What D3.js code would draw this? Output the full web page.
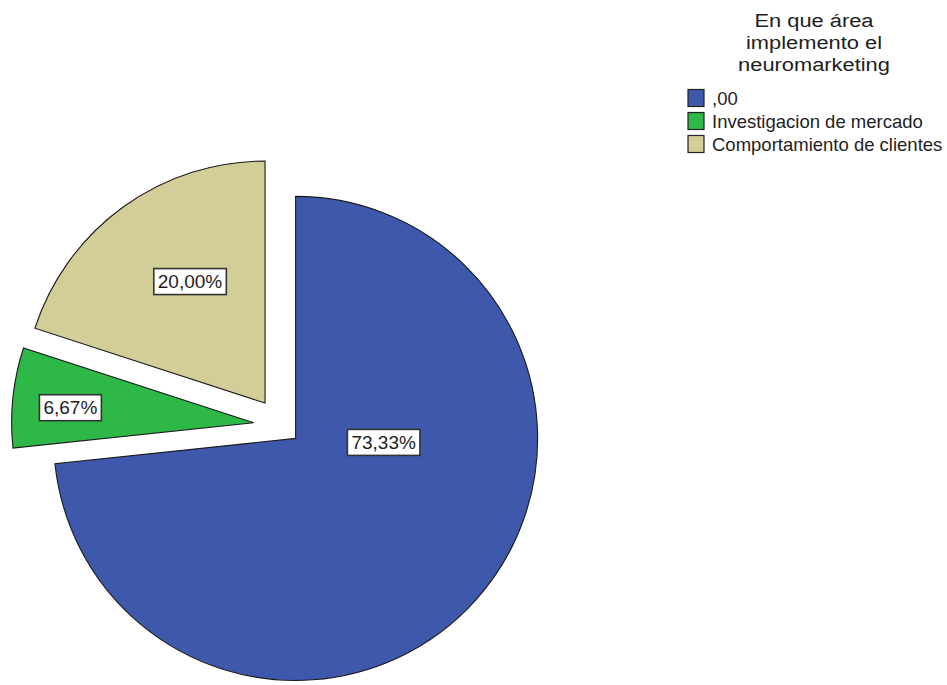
<!DOCTYPE html>
<html>
<head>
<meta charset="utf-8">
<script src="https://cdn.jsdelivr.net/npm/d3@7"></script>
<style>
  html, body { margin: 0; padding: 0; background: #fff; }
  svg { display: block; font-family: "Liberation Sans", Arial, sans-serif; }
</style>
</head>
<body>
<svg id="chart" width="947" height="685"></svg>
<script>
// Area where neuromarketing is applied (percent of respondents)
const categories = [",00", "Investigacion de mercado", "Comportamiento de clientes"];
const percents = [73.33, 6.67, 20.00];
const sliceColors = ["#3E58AC", "#2EB848", "#D3CE97"];
const legendTitle = ["En que área", "implemento el", "neuromarketing"];

// Layout
const W = 947, H = 685;
const cx = 281.5, cy = 425.7, R = 242;
const explode = { ",00": 19, "Investigacion de mercado": 28, "Comportamiento de clientes": 28 };
// label anchor relative to each slice apex: angle (degrees, clockwise from 12 o'clock), distance (fraction of R)
const labelAt = {
  ",00": { a: 92.6, r: 0.364 },
  "Investigacion de mercado": { a: 274.7, r: 0.76 },
  "Comportamiento de clientes": { a: 328.3, r: 0.59 }
};

const svg = d3.select("#chart");
const data = categories.map((c, i) => ({ cat: c, value: percents[i], color: sliceColors[i] }));

const pie = d3.pie().sort(null).value(d => d.value).startAngle(0).endAngle(2 * Math.PI);
const arc = d3.arc().innerRadius(0).outerRadius(R);
const arcs = pie(data);

const locale = d3.formatLocale({ decimal: ",", thousands: ".", grouping: [3], currency: ["", ""] });
const fmt = locale.format(".2f");

const pieG = svg.append("g").attr("transform", `translate(${cx},${cy})`);

const slices = pieG.selectAll("g.slice")
  .data(arcs)
  .join("g")
  .attr("class", "slice")
  .attr("transform", d => {
    const mid = (d.startAngle + d.endAngle) / 2;
    const e = explode[d.data.cat] || 0;
    return `translate(${e * Math.sin(mid)},${-e * Math.cos(mid)})`;
  });

slices.append("path")
  .attr("d", arc)
  .attr("fill", d => d.data.color)
  .attr("stroke", "#1a1a1a")
  .attr("stroke-width", 1.1)
  .attr("stroke-linejoin", "miter");

// value labels in white boxes
slices.each(function (d) {
  const g = d3.select(this);
  const p = labelAt[d.data.cat];
  const a = p.a * Math.PI / 180;
  const lx = p.r * R * Math.sin(a), ly = -p.r * R * Math.cos(a);
  const lg = g.append("g").attr("transform", `translate(${lx},${ly})`);
  const rect = lg.append("rect");
  const t = lg.append("text")
    .attr("text-anchor", "middle")
    .attr("dy", "0.35em")
    .attr("font-size", 19)
    .attr("fill", "#1e1e1e")
    .text(fmt(d.data.value) + "%");
  const bb = t.node().getBBox();
  const padX = 4, h = 26;
  rect.attr("x", bb.x - padX)
    .attr("y", -h / 2)
    .attr("width", bb.width + 2 * padX)
    .attr("height", h)
    .attr("fill", "#fff")
    .attr("stroke", "#333")
    .attr("stroke-width", 1.6);
});

// legend
const lgd = svg.append("g");
// title: slightly wide lettering
lgd.append("g")
  .attr("transform", "translate(814,0) scale(1.15,1)")
  .append("text")
  .attr("text-anchor", "middle")
  .attr("font-size", 19)
  .attr("fill", "#1e1e1e")
  .selectAll("tspan")
  .data(legendTitle)
  .join("tspan")
  .attr("x", 0)
  .attr("y", (d, i) => 27 + i * 22)
  .text(d => d);

const rowY = d3.scalePoint().domain(categories).range([98, 144]);
const items = lgd.selectAll("g.item")
  .data(data)
  .join("g")
  .attr("class", "item")
  .attr("transform", d => `translate(688,${rowY(d.cat)})`);

items.append("rect")
  .attr("x", 0).attr("y", -8.5)
  .attr("width", 16).attr("height", 17)
  .attr("fill", d => d.color)
  .attr("stroke", "#222")
  .attr("stroke-width", 1.2);

items.append("text")
  .attr("x", 24)
  .attr("dy", "0.36em")
  .attr("font-size", 18.5)
  .attr("fill", "#1e1e1e")
  .text(d => d.cat);
</script>
</body>
</html>
